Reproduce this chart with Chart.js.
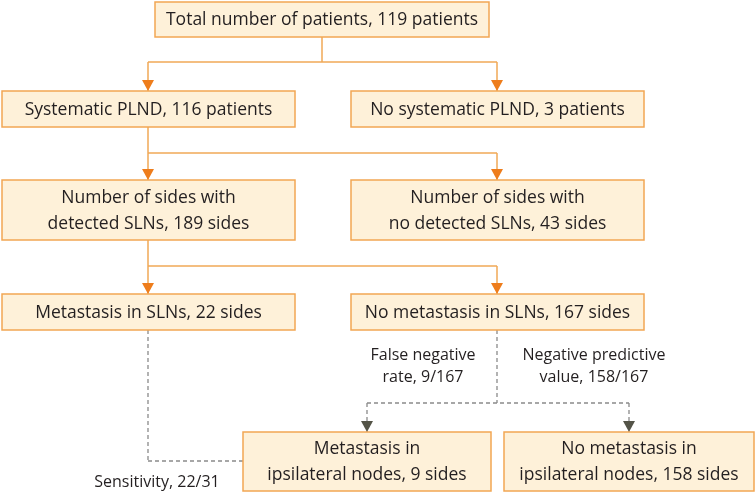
<!DOCTYPE html>
<html>
<head>
<meta charset="utf-8">
<script src="https://cdn.jsdelivr.net/npm/chart.js@4"></script>
<style>
  html, body { margin: 0; padding: 0; background: #fff; }
  #wrap { width: 755px; height: 493px; position: relative; }
</style>
</head>
<body>
<div id="wrap"><canvas id="flow"></canvas></div>
<script>
// box texts (lines split with \n)
const boxTexts = [
  'Total number of patients, 119 patients',
  'Systematic PLND, 116 patients',
  'No systematic PLND, 3 patients',
  'Number of sides with\ndetected SLNs, 189 sides',
  'Number of sides with\nno detected SLNs, 43 sides',
  'Metastasis in SLNs, 22 sides',
  'No metastasis in SLNs, 167 sides',
  'Metastasis in\nipsilateral nodes, 9 sides',
  'No metastasis in\nipsilateral nodes, 158 sides'
];
// free labels
const noteTexts = [
  'False negative\nrate, 9/167',
  'Negative predictive\nvalue, 158/167',
  'Sensitivity, 22/31'
];

// layout in chart units (x 0..755, y 0..493 top-down)
const boxRects = [
  [155, 2, 489, 37],
  [2, 91, 295, 127],
  [351, 91, 644, 127],
  [2, 180, 295, 240],
  [351, 180, 644, 240],
  [2, 294, 295, 330],
  [351, 294, 644, 330],
  [243, 432, 491, 491],
  [504, 432, 754, 491]
];
const notePos = [[423, 355], [594, 355], [157, 482]];

// solid connectors: [x1,y1,x2,y2], arrows: [x, tipY]
const solidLines = [
  [322, 37, 322, 62], [148, 62, 497, 62], [148, 62, 148, 91], [497, 62, 497, 91],
  [148, 127, 148, 180], [148, 153, 497, 153], [497, 153, 497, 180],
  [148, 240, 148, 294], [148, 266, 497, 266], [497, 266, 497, 294]
];
const solidArrows = [[148, 91], [497, 91], [148, 180], [497, 180], [148, 294], [497, 294]];
const dashLines = [
  [148, 330, 148, 461], [148, 461, 243, 461],
  [497, 330, 497, 403], [367, 403, 629, 403], [367, 403, 367, 432], [629, 403, 629, 432]
];
const dashArrows = [[367, 432], [629, 432]];

const FONT = '"Open Sans", "Noto Sans", sans-serif';

const flowPlugin = {
  id: 'flow',
  afterDraw(chart) {
    const c = chart.ctx;
    const X = v => chart.scales.x.getPixelForValue(v);
    const Y = v => chart.scales.y.getPixelForValue(v);
    c.save();

    function seg(l) {
      c.beginPath();
      c.moveTo(X(l[0]), Y(l[1]));
      c.lineTo(X(l[2]), Y(l[3]));
      c.stroke();
    }
    function arrow(a, col) {
      c.fillStyle = col;
      c.beginPath();
      c.moveTo(X(a[0]), Y(a[1]));
      c.lineTo(X(a[0]) - 6, Y(a[1]) - 11);
      c.lineTo(X(a[0]) + 6, Y(a[1]) - 11);
      c.closePath();
      c.fill();
    }

    c.lineWidth = 1.5;
    c.strokeStyle = '#f0a856';
    solidLines.forEach(seg);
    c.strokeStyle = '#8a8a8a';
    c.lineWidth = 1.3;
    c.setLineDash([4, 3]);
    dashLines.forEach(seg);
    c.setLineDash([]);
    solidArrows.forEach(a => arrow(a, '#ee7d1c'));
    dashArrows.forEach(a => arrow(a, '#545448'));

    c.textAlign = 'center';
    c.textBaseline = 'middle';
    boxRects.forEach((r, i) => {
      const x1 = X(r[0]), y1 = Y(r[1]), x2 = X(r[2]), y2 = Y(r[3]);
      c.fillStyle = '#fef1d9';
      c.fillRect(x1, y1, x2 - x1, y2 - y1);
      c.strokeStyle = '#f2a653';
      c.lineWidth = 1.5;
      c.strokeRect(x1, y1, x2 - x1, y2 - y1);
      c.fillStyle = '#231f20';
      c.font = '17.5px ' + FONT;
      const lines = boxTexts[i].split('\n');
      const cy = (y1 + y2) / 2, lh = 26;
      lines.forEach((t, k) => {
        c.fillText(t, (x1 + x2) / 2, cy + (k - (lines.length - 1) / 2) * lh + 1);
      });
    });

    c.fillStyle = '#231f20';
    c.font = '16px ' + FONT;
    noteTexts.forEach((t, i) => {
      const lines = t.split('\n');
      lines.forEach((s, k) => {
        c.fillText(s, X(notePos[i][0]), Y(notePos[i][1]) + k * 22);
      });
    });
    c.restore();
  }
};

new Chart(document.getElementById('flow'), {
  type: 'scatter',
  data: {
    datasets: [{
      data: boxRects.map(r => ({ x: (r[0] + r[2]) / 2, y: (r[1] + r[3]) / 2 })),
      pointRadius: 0
    }]
  },
  options: {
    responsive: true,
    maintainAspectRatio: false,
    animation: false,
    layout: { padding: 0 },
    scales: {
      x: { type: 'linear', min: 0, max: 755, display: false },
      y: { type: 'linear', min: 0, max: 493, reverse: true, display: false }
    },
    plugins: { legend: { display: false }, tooltip: { enabled: false } }
  },
  plugins: [flowPlugin]
});
</script>
</body>
</html>
